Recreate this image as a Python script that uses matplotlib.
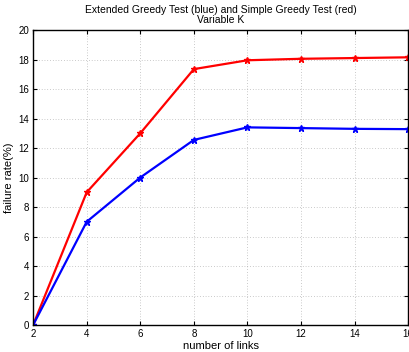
import matplotlib
matplotlib.use('Agg')
import matplotlib.pyplot as plt

plt.rcParams['font.family'] = ['Liberation Sans', 'DejaVu Sans']

# data
links = [2, 4, 6, 8, 10, 12, 14, 16]
simple_greedy = [0, 9.0, 13.0, 17.35, 17.95, 18.05, 18.1, 18.15]
extended_greedy = [0, 7.0, 10.0, 12.55, 13.4, 13.35, 13.3, 13.28]

fig = plt.figure(figsize=(4.09, 3.52), dpi=100)
ax = fig.add_axes([0.081, 0.0767, 0.917, 0.838])

ax.plot(links, simple_greedy, color='red', lw=1.6, marker='*', ms=5)
ax.plot(links, extended_greedy, color='blue', lw=1.6, marker='*', ms=5)

ax.set_xlim(2, 16)
ax.set_ylim(0, 20)
ax.set_xticks(range(2, 17, 2))
ax.set_yticks(range(0, 21, 2))
ax.grid(True, linestyle=(0, (1, 3)), color='#999999', lw=0.5)
ax.tick_params(direction='in', top=True, right=True, labelsize=7, length=3, pad=3)
for s in ax.spines.values():
    s.set_linewidth(1.0)

ax.set_xlabel('number of links', fontsize=8, labelpad=1)
ax.set_ylabel('failure rate(%)', fontsize=8, labelpad=3)
ax.set_title('Extended Greedy Test (blue) and Simple Greedy Test (red)\nVariable K',
             fontsize=7.5, pad=5, linespacing=1.05)

fig.savefig('out.png', dpi=100)
